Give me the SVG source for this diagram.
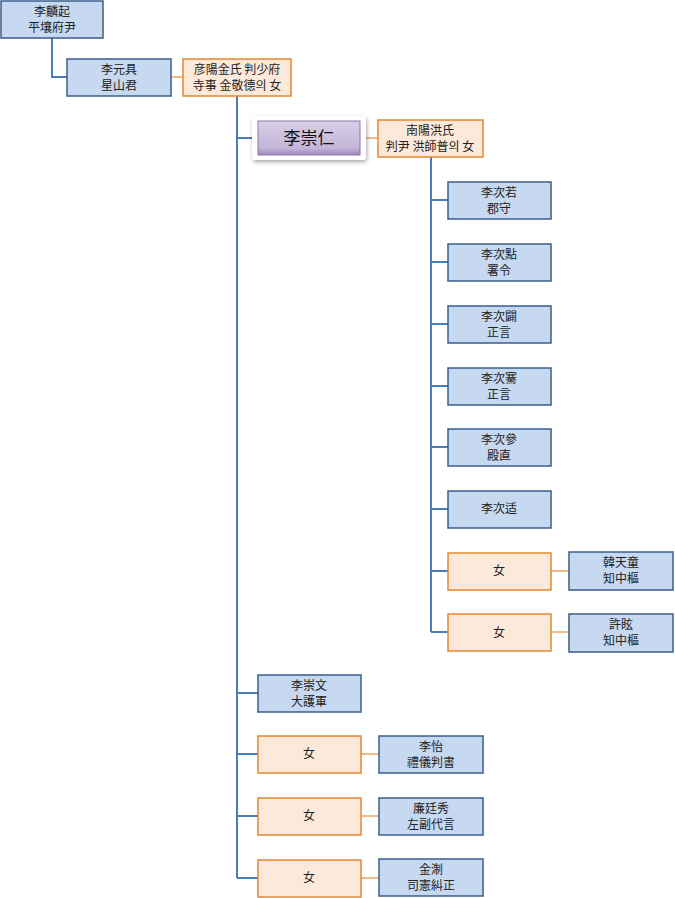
<svg xmlns="http://www.w3.org/2000/svg" width="675" height="898" viewBox="0 0 675 898">
<style>
.b{fill:#c6d9f1;stroke:#385d8a;stroke-width:1.5}
.o{fill:#fde9d9;stroke:#e6862e;stroke-width:1.5}
text{font-family:"Noto Sans CJK KR","Noto Sans CJK TC",sans-serif;font-size:12px;fill:#222;text-anchor:middle}
.cb{stroke:#4a7ebb;stroke-width:2;fill:none}
.co{stroke:#f5b98a;stroke-width:2;fill:none}
</style>
<defs>
<linearGradient id="pg" x1="0" y1="0" x2="0" y2="1">
<stop offset="0" stop-color="#d9d0e6"/>
<stop offset="0.8" stop-color="#c3b5d8"/>
<stop offset="1" stop-color="#9e88be"/>
</linearGradient>
<filter id="sh" x="-20%" y="-30%" width="140%" height="160%">
<feGaussianBlur in="SourceAlpha" stdDeviation="2"/>
<feOffset dx="1" dy="2"/>
<feComponentTransfer><feFuncA type="linear" slope="0.35"/></feComponentTransfer>
<feMerge><feMergeNode/><feMergeNode in="SourceGraphic"/></feMerge>
</filter>
</defs>
<g id="connectors">
<path class="cb" d="M52 38V77H67"/>
<path class="co" d="M171 77H183"/>
<path class="cb" d="M237 96V878M237 138H258M237 693H258M237 754H258M237 816H258M237 878H258"/>
<path class="co" d="M360 138H378"/>
<path class="cb" d="M431 157V632M431 200H448M431 262H448M431 324H448M431 386H448M431 447H448M431 509H448M431 571H448M431 632H448"/>
<path class="co" d="M551 571H569M551 632H569M361 754H379M361 816H379M361 878H379"/>
</g>
<g id="n1"><rect class="b" x="1" y="1" width="102" height="37"/><text x="52" y="16">李麟起</text><text x="52" y="32">平壤府尹</text></g>
<g id="n2"><rect class="b" x="67" y="59" width="104" height="37"/><text x="119" y="74">李元具</text><text x="119" y="90">星山君</text></g>
<g id="n3"><rect class="o" x="183" y="59" width="108" height="37"/><text x="237" y="74">彦陽金氏 判少府</text><text x="237" y="90">寺事 金敬德의 女</text></g>
<g id="n4">
<rect x="252" y="116" width="114" height="44" rx="3" fill="#fff" filter="url(#sh)"/>
<rect x="258" y="121" width="102" height="34" fill="url(#pg)" stroke="#8a77a8" stroke-width="1"/>
<text x="309" y="144" style="font-size:17px;fill:#111">李崇仁</text></g>
<g id="n5"><rect class="o" x="378" y="120" width="105" height="37"/><text x="430" y="135">南陽洪氏</text><text x="430" y="151">判尹 洪師普의 女</text></g>
<g id="n6"><rect class="b" x="448" y="182" width="103" height="37"/><text x="499" y="197">李次若</text><text x="499" y="213">郡守</text></g>
<g id="n7"><rect class="b" x="448" y="244" width="103" height="37"/><text x="499" y="259">李次點</text><text x="499" y="275">署令</text></g>
<g id="n8"><rect class="b" x="448" y="306" width="103" height="37"/><text x="499" y="321">李次闢</text><text x="499" y="337">正言</text></g>
<g id="n9"><rect class="b" x="448" y="368" width="103" height="37"/><text x="499" y="383">李次騫</text><text x="499" y="399">正言</text></g>
<g id="n10"><rect class="b" x="448" y="429" width="103" height="37"/><text x="499" y="444">李次參</text><text x="499" y="460">殿直</text></g>
<g id="n11"><rect class="b" x="448" y="491" width="103" height="37"/><text x="499" y="513">李次适</text></g>
<g id="n12"><rect class="o" x="448" y="553" width="103" height="37"/><text x="499" y="575">女</text></g>
<g id="n13"><rect class="b" x="569" y="552" width="104" height="38"/><text x="621" y="567">韓天童</text><text x="621" y="583">知中樞</text></g>
<g id="n14"><rect class="o" x="448" y="614" width="103" height="37"/><text x="499" y="637">女</text></g>
<g id="n15"><rect class="b" x="569" y="614" width="104" height="38"/><text x="621" y="629">許眩</text><text x="621" y="645">知中樞</text></g>
<g id="n16"><rect class="b" x="258" y="675" width="103" height="37"/><text x="309" y="690">李崇文</text><text x="309" y="706">大護軍</text></g>
<g id="n17"><rect class="o" x="258" y="736" width="103" height="37"/><text x="309" y="758">女</text></g>
<g id="n18"><rect class="b" x="379" y="736" width="104" height="37"/><text x="431" y="751">李怡</text><text x="431" y="767">禮儀判書</text></g>
<g id="n19"><rect class="o" x="258" y="798" width="103" height="37"/><text x="309" y="820">女</text></g>
<g id="n20"><rect class="b" x="379" y="798" width="104" height="37"/><text x="431" y="813">廉廷秀</text><text x="431" y="829">左副代言</text></g>
<g id="n21"><rect class="o" x="258" y="860" width="103" height="37"/><text x="309" y="882">女</text></g>
<g id="n22"><rect class="b" x="379" y="859" width="104" height="37"/><text x="431" y="874">金淛</text><text x="431" y="890">司憲糾正</text></g>
</svg>
